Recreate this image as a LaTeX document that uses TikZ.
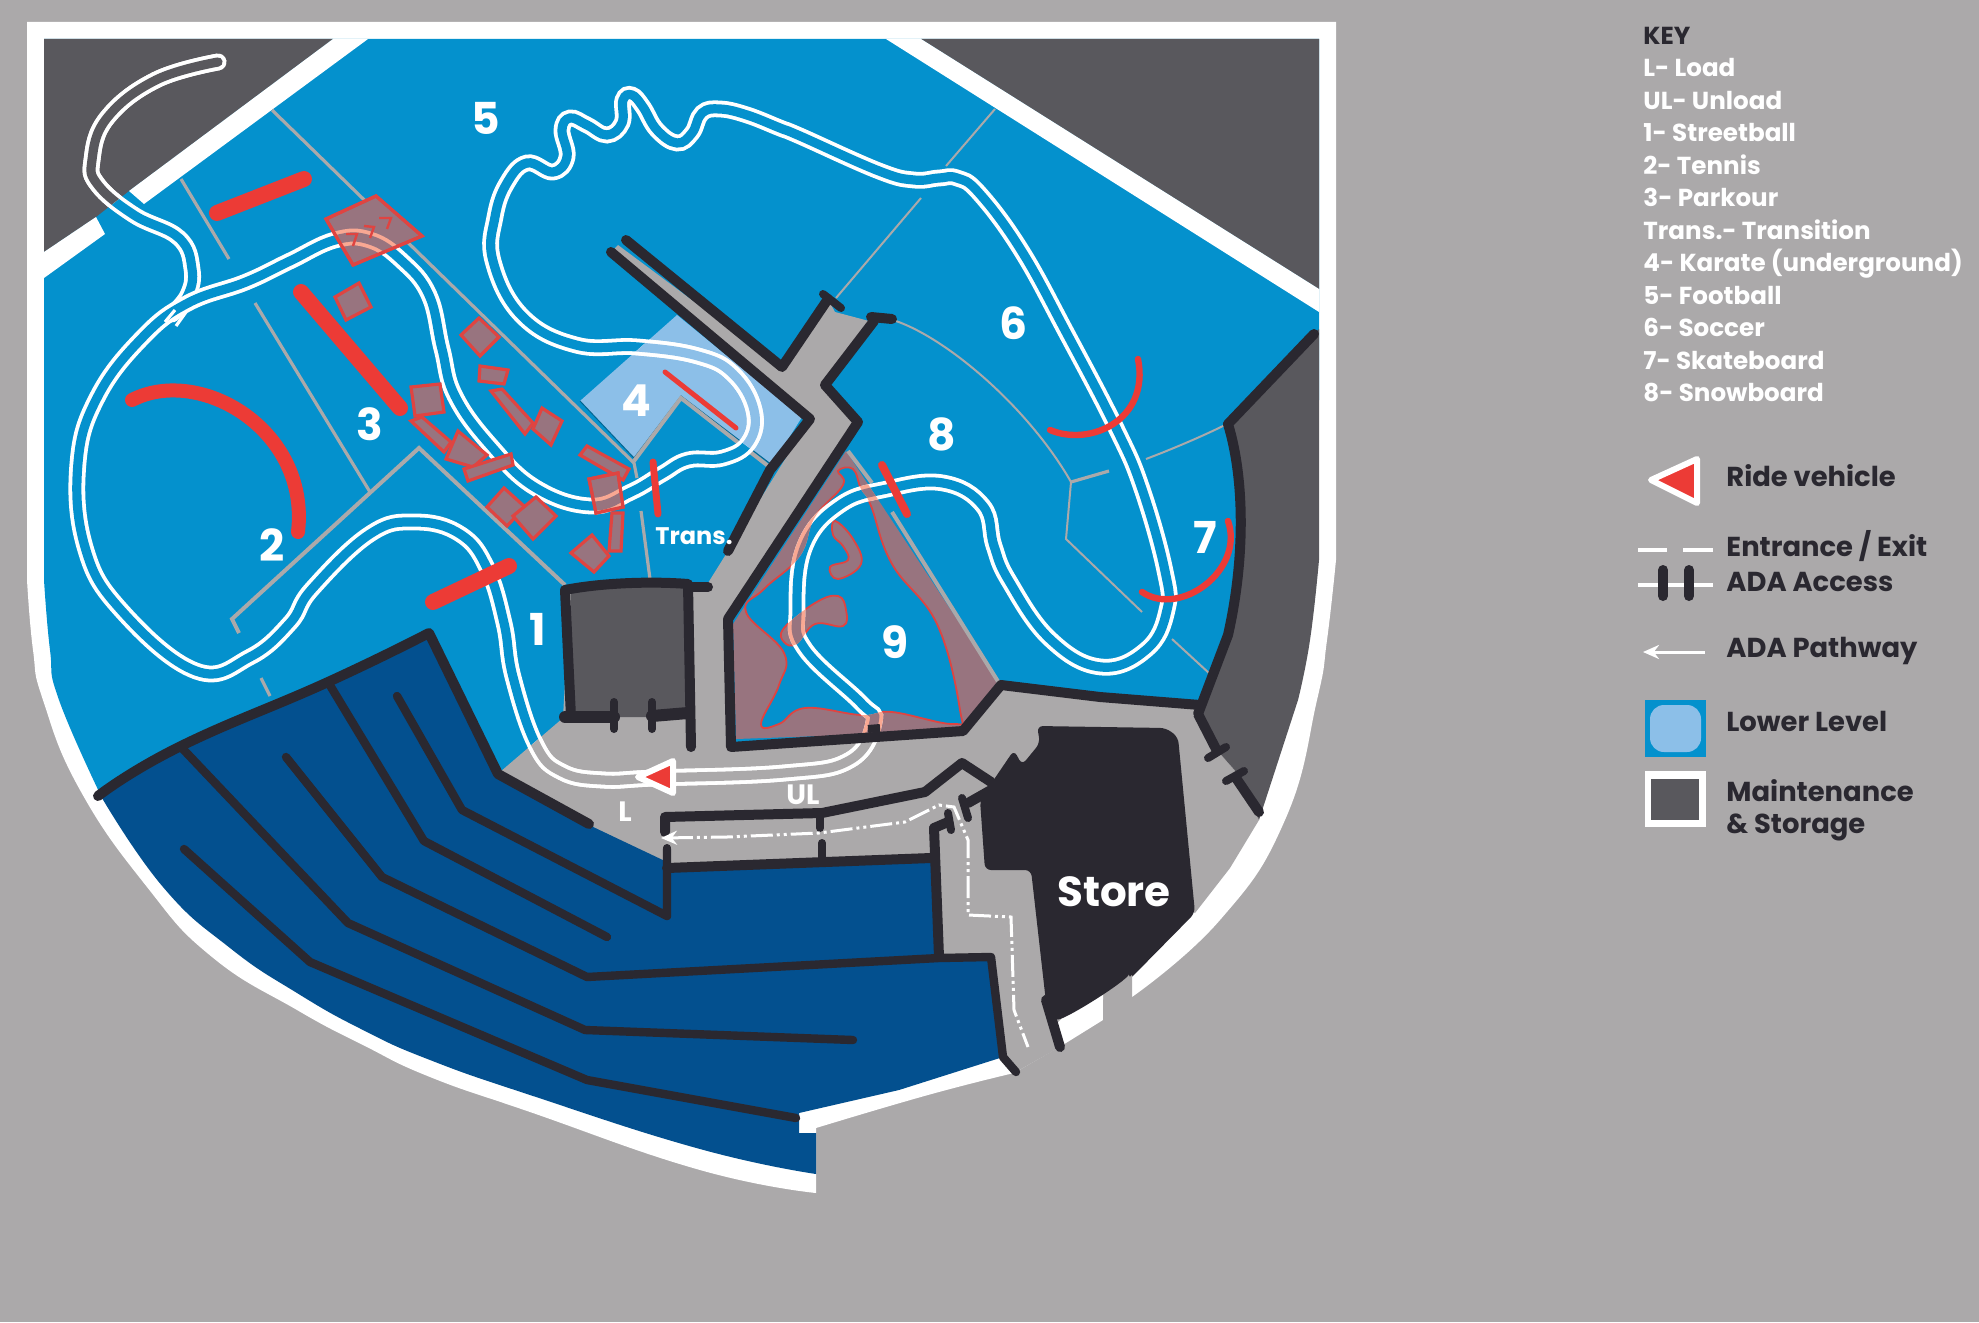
\documentclass[tikz,border=0pt]{standalone}
\usepackage{fontspec}
\setmainfont{Poppins}
\usetikzlibrary{matrix,arrows.meta}
\definecolor{backgray}{HTML}{ABA9AA}
\definecolor{parkblue}{HTML}{0491CD}
\definecolor{seatblue}{HTML}{03508F}
\definecolor{lowerblue}{HTML}{8CBFE8}
\definecolor{storegray}{HTML}{59585D}
\definecolor{walldark}{HTML}{2A2830}
\definecolor{ridered}{HTML}{EC3B36}
\definecolor{mauve}{HTML}{98747F}
\definecolor{salmon}{HTML}{F9A893}
\tikzset{
  wall/.style={draw=walldark,line width=5pt,line cap=round,line join=round},
  thinwall/.style={wall,line width=4.2pt},
  adapill/.style={wall,line width=4pt},
  fence/.style={draw=backgray,line width=1.6pt},
  redbar/.style={draw=ridered,line width=#1,line cap=round},
  redbar/.default=8pt,
  rails/.style 2 args={draw=#1,double=#2,double distance=4.6pt,line width=1.9pt,line cap=round},
  stunt/.style={fill=mauve,draw=ridered!85!mauve,line width=1.6pt,line join=miter},
  vehicle/.style={fill=ridered,draw=white,line width=3pt,line join=round},
  bignum/.style={text=white,font=\bfseries\fontsize{22}{22}\selectfont,inner sep=0pt},
  smalllabel/.style={text=white,font=\bfseries\fontsize{14}{14}\selectfont,inner sep=0pt},
  keylabel/.style={text=walldark,font=\bfseries\fontsize{13.7}{13.7}\selectfont,anchor=west,inner sep=0pt},
  adapath/.style={draw=white,line width=1.5pt,dash pattern=on 11pt off 2pt on 1.5pt off 2pt on 1.5pt off 2pt},
  adatip/.style={{Stealth[length=8pt,width=7pt]}-},
}
\newcommand{\trackloop}{plot[smooth cycle,tension=.7] coordinates {(655,778)(784,773)(850,760)(874,722)(861,703)(805,649)(797,610)(805,546)(840,505)(887,489)(943,483)(983,506)(994,546)(1009,581)(1050,639)(1101,667)(1147,649)(1167,610)(1165,571)(1142,489)(1116,428)(1066,332)(1021,250)(979,193)(957,178)(939,178)(914,180)(879,171)(800,136)(780,128)(747,115)(720,109)(702,113)(692,133)(677,143)(657,130)(643,107)(632,95)(623,100)(622,123)(607,135)(587,125)(570,118)(562,130)(567,157)(553,172)(527,163)(507,183)(495,217)(493,261)(522,316)(576,345)(638,347)(698,356)(733,374)(754,410)(749,442)(723,458)(688,460)(662,474)(631,492)(591,506)(536,488)(491,446)(455,396)(442,349)(429,295)(402,261)(370,240)(335,240)(290,261)(246,282)(188,303)(143,337)(98,396)(78,463)(85,547)(121,610)(196,671)(250,657)(290,623)(312,589)(370,534)(415,522)(460,534)(487,568)(504,623)(513,677)(536,745)(562,772)(603,780)}}
\newcommand{\trackspur}{plot[smooth,tension=.7] coordinates {(172,314)(188,295)(192,269)(179,238)(134,215)(98,185)(92,160)(107,118)(156,80)(218,62)}}
\newcommand{\cornerpath}{(44,39) -- (333,39) -- (129,191) -- (96,217) -- (44,252) -- cycle}
\newcommand{\lowerpath}{(580,401) -- (634,458) -- (681,396) -- (772,465) -- (802,417) -- (677,315) -- cycle}
\newcommand{\plazapath}{(618,245) -- (782,367) -- (828,299) -- (835,312) -- (869,321) -- (825,385) -- (858,422) -- (728,619) -- (731,747) -- (963,731) -- (1001,685) -- (1200,705) -- (1193,715) -- (1216,749) -- (1238,774) -- (1259,820) -- (1230,868) -- (1195,913) -- (1170,900) -- (1080,1000) -- (1050,1030) -- (1060,1047) -- (1014,1073) -- (1003,1057) -- (800,1000) -- (665,862) -- (591,826) -- (500,772) -- (563,718) -- (570,585) -- (708,583) -- (728,551) -- (810,419) -- (611,252) -- cycle}
\newcommand{\pinkholes}{plot[smooth cycle,tension=.7] coordinates {(838,471)(843,485)(815,517)(800,556)(764,589)(746,612)(784,653)(779,685)(761,724)(779,724)(805,708)(861,715)(892,712)(953,724)(960,710)(937,624)(892,564)(871,506)(861,489)(853,469)} plot[smooth cycle,tension=.7] coordinates {(835,521)(853,539)(861,564)(838,579)(830,567)(848,560)(843,546)(833,535)} plot[smooth cycle,tension=.7] coordinates {(784,628)(815,603)(838,596)(846,610)(843,626)(815,624)(797,644)(784,642)}}
\newcommand{\pinkpath}{(733,624) -- (846,451) -- (999,683) -- (960,731) -- (736,739) -- cycle \pinkholes}
\newcommand{\bigstunt}{(326,219) -- (376,196) -- (422,236) -- (353,265) -- cycle}
\newcommand{\lumpstunt}{(458,431) -- (487,455) -- (473,467) -- (446,459) -- cycle}
\newcommand{\transstunt}{(589,479) -- (618,473) -- (623,507) -- (596,513) -- cycle}
\newcommand{\seatrim}{(816,1174)(700,1149)(530,1095)(430,1060)(363,1030)(297,993)(230,948)(163,887)(102,798)}
\begin{document}
\begin{tikzpicture}[x=.5pt,y=-.5pt]
  \useasboundingbox (0,0) rectangle (1979,1322);
  \fill[backgray] (0,0) rectangle (1979,1322);
  \fill[white] (27,22) -- (1336,22) -- plot[smooth,tension=.8] coordinates {(1336,560)(1327,640)(1317,700)(1285,820)(1220,920)(1132,997)} -- (1132,970) -- (1103,990) -- (1103,1020) -- (1066,1043) -- plot[smooth,tension=.8] coordinates {(1014,1073)(928,1095)(816,1128)} -- plot[smooth,tension=.8] coordinates {(816,1193)(700,1170)(530,1112)(430,1077)(363,1045)(297,1010)(212,957)(147,887)(80,790)(43,700)(33,650)(27,580)} -- cycle;
  \fill[parkblue] (44,39) -- (1319,39) -- (1319,400) -- (1250,600) -- (1150,800) -- (800,1000) -- (300,800) -- plot[smooth,tension=.8] coordinates {(102,798)(59,700)(50,650)(44,580)} -- cycle;
  \fill[storegray] \cornerpath;
  \fill[storegray] (921,39) -- (1319,39) -- (1319,289) -- cycle;
  \fill[white] (333,39) -- (368,39) -- (144,204) -- (129,191) -- cycle;
  \fill[white] (96,217) -- (105,234) -- (44,278) -- (44,252) -- cycle;
  \fill[white] (886,39) -- (921,39) -- (1319,289) -- (1319,312) -- cycle;
  \fill[lowerblue] \lowerpath;
  \draw[parkblue!70!black,line width=.5pt] (580,401) -- (634,458) -- (681,396) -- (772,465);
  \fill[backgray] \plazapath;
  \fill[storegray] (1319,329) -- (1228,424) -- plot[smooth,tension=.8] coordinates {(1241,535)(1228,635)(1198,714)} -- (1216,749) -- (1238,774) -- (1259,820) -- plot[smooth,tension=.8] coordinates {(1298,700)(1310,640)(1319,560)} -- cycle;
  \fill[seatblue] plot[smooth,tension=.8] coordinates {(98,796)(179,747)(328,682)(429,633)} -- (498,774) -- (591,826) -- (667,862) -- (667,868) -- (931,860) -- (939,957) -- (991,957) -- (1003,1057) -- plot[smooth,tension=.8] coordinates {(899,1090)(799,1113)} -- (799,1133) -- (816,1133) -- plot[smooth,tension=.8] coordinates {\seatrim} -- cycle;
  \fill[mauve,even odd rule] \pinkpath;
  \draw[ridered!85!mauve,line width=.9pt] \pinkholes;
  \draw[fence] (272,110) -- (634,463) -- (637,478);
  \draw[fence,line width=2pt,line join=miter] (772,469) -- (681,398) -- (634,461);
  \draw[fence] (641,511) -- (650,579);
  \draw[fence] (181,179) -- (229,259);
  \draw[fence] (255,303) -- (370,492);
  \draw[fence,line width=2pt] (565,585) -- (419,448) -- (232,619) -- (239,633);
  \draw[fence] (261,678) -- (270,696);
  \draw[fence,line width=1pt] (995,109) -- (946,166);
  \draw[fence,line width=1pt] (921,198) -- (836,298);
  \draw[fence,line width=1pt] (896,321) .. controls (950,340) and (1030,410) .. (1071,482) -- (1066,539) -- (1142,612);
  \draw[fence] (1071,482) -- (1109,471);
  \draw[fence,line width=1pt] (1146,459) .. controls (1175,448) and (1205,435) .. (1225,425);
  \draw[fence,line width=1pt] (1172,639) -- (1210,674);
  \draw[fence,line width=2pt] (848,451) -- (872,483);
  \draw[fence,line width=2pt] (892,512) -- (999,683);
  \draw[rails={white}{parkblue}] \trackspur;
  \draw[rails={white}{parkblue}] \trackloop;
  \begin{scope}
    \clip \cornerpath;
    \draw[rails={white}{storegray}] \trackspur;
  \end{scope}
  \begin{scope}
    \clip \lowerpath;
    \draw[rails={white}{lowerblue}] \trackloop;
  \end{scope}
  \begin{scope}
    \clip \plazapath;
    \draw[rails={white}{backgray}] \trackloop;
  \end{scope}
  \begin{scope}[even odd rule]
    \clip \pinkpath;
    \draw[rails={salmon}{mauve}] \trackloop;
  \end{scope}
  \draw[white,line width=1.6pt] (165,322) -- (175,310);
  \draw[white,line width=1.6pt] (176,326) -- (186,312);
  \fill[storegray] (571,590) -- (690,585) -- (690,717) -- (571,717) -- cycle;
  \draw[wall] (565,590) .. controls (600,583) and (650,581) .. (688,584) -- (691,747);
  \draw[wall] (688,587) -- (708,587);
  \draw[wall] (565,590) -- (571,717);
  \draw[wall,line width=6pt] (565,717) -- (614,717);
  \draw[wall,line width=6pt] (652,716) -- (688,713);
  \draw[adapill] (614,702) -- (614,729);
  \draw[adapill] (652,702) -- (652,729);
  \draw[wall] plot[smooth,tension=.8] coordinates {(98,796)(179,747)(328,682)(429,633)} -- (498,774) -- (589,824);
  \draw[thinwall] (397,696) -- (462,810) -- (667,916) -- (667,849);
  \draw[thinwall] (328,682) -- (424,841) -- (607,937);
  \draw[thinwall] (286,757) -- (382,877) -- (587,977) -- (939,958) -- (991,957) -- (1003,1057) -- (1016,1072);
  \draw[thinwall] (181,747) -- (348,923) -- (585,1030) -- (853,1040);
  \draw[thinwall] (184,849) -- (310,962) -- (587,1080) -- (796,1118);
  \draw[wall] (667,868) -- (931,858);
  \draw[wall] (934,828) -- (939,957);
  \draw[wall] (934,828) -- (948,822);
  \draw[wall] (665,832) -- (665,817) -- (822,813) -- (925,792) -- (962,763) -- (991,782);
  \draw[adapill] (820,813) -- (820,828);
  \draw[adapill] (822,843) -- (822,862);
  \draw[adapill] (667,848) -- (667,870);
  \draw[adapill] (948,813) -- (951,830);
  \draw[adapill] (962,798) -- (968,818);
  \draw[wall] (968,803) -- (991,790);
  \fill[walldark,rounded corners=3pt] (1037,726) -- (1166,728) -- (1178,737) -- (1195,913) -- plot[smooth,tension=.8] coordinates {(1129,980)(1057,1025)} -- (1048,1020) -- (1031,870) -- (985,870) -- (980,800) -- (1014,750) -- (1022,765) -- (1040,743) -- cycle;
  \draw[wall] (1046,1000) -- (1060,1047);
  \draw[wall] (626,240) -- (782,367) -- (828,299);
  \draw[adapill] (823,294) -- (841,308);
  \draw[wall] (611,252) -- (810,419) -- (770,470) -- (728,551);
  \draw[wall] (871,317) -- (892,319);
  \draw[wall] (874,321) -- (825,385) -- (858,422) -- (728,619) -- (731,747) -- (963,731) -- (1001,685) -- (1100,697) -- (1200,705);
  \draw[wall] (1314,334) -- (1228,424) .. controls (1245,480) and (1245,560) .. (1228,635) -- (1198,714) -- (1216,749);
  \draw[adapill] (1208,758) -- (1226,747);
  \draw[adapill] (1226,781) -- (1244,771);
  \draw[wall] (1236,778) -- (1259,812);
  \draw[walldark,line width=4pt] (868,729) -- (880,728);
  \fill[backgray] (1103,1022) -- (1132,1000) -- (1132,975) -- (1103,1000) -- cycle;
  \draw[adapath,adatip] (661,838) -- (727,837) -- (819,833) -- (905,822) -- (939,805) -- (954,807) -- (968,840) -- (968,915) -- (1011,917) -- (1014,1010) -- (1028,1047);
  \draw[redbar] (217,213) -- (304,179);
  \draw[redbar] (301,292) -- (400,408);
  \draw[redbar=7pt] (132,400) .. controls (200,365) and (310,430) .. (298,532);
  \draw[redbar] (433,602) -- (509,566);
  \draw[redbar=3.5pt] (653,462) -- (658,514);
  \draw[redbar=2.5pt] (665,372) -- (736,428);
  \draw[redbar=4pt] (882,465) -- (907,514);
  \draw[redbar=3.2pt] (1050,430) .. controls (1090,447) and (1150,420) .. (1138,359);
  \draw[redbar=3.2pt] (1142,592) .. controls (1180,618) and (1245,570) .. (1228,521);
  \draw[stunt] \bigstunt;
  \draw[stunt] (335,297) -- (359,283) -- (371,307) -- (346,320) -- cycle;
  \draw[stunt] (461,335) -- (479,318) -- (499,337) -- (480,356) -- cycle;
  \draw[stunt] (480,366) -- (508,370) -- (504,384) -- (479,381) -- cycle;
  \draw[stunt] (491,391) -- (502,389) -- (533,423) -- (525,434) -- cycle;
  \draw[stunt] (533,429) -- (542,408) -- (562,421) -- (551,445) -- cycle;
  \draw[stunt] (411,387) -- (440,384) -- (444,412) -- (415,416) -- cycle;
  \draw[stunt] (411,421) -- (422,417) -- (451,442) -- (444,452) -- cycle;
  \draw[stunt] \lumpstunt;
  \draw[stunt] (464,469) -- (511,454) -- (513,465) -- (468,481) -- cycle;
  \draw[stunt] (487,507) -- (504,488) -- (525,507) -- (507,526) -- cycle;
  \draw[stunt] (513,516) -- (536,497) -- (556,516) -- (533,539) -- cycle;
  \draw[stunt] (580,455) -- (587,446) -- (629,469) -- (623,480) -- cycle;
  \draw[stunt] \transstunt;
  \draw[stunt] (612,513) -- (623,513) -- (621,551) -- (609,551) -- cycle;
  \draw[stunt] (571,553) -- (592,535) -- (609,556) -- (594,572) -- cycle;
  \begin{scope}
    \clip \bigstunt;
    \draw[rails={salmon}{mauve}] \trackloop;
  \end{scope}
  \begin{scope}
    \clip \lumpstunt;
    \draw[rails={salmon}{mauve}] \trackloop;
  \end{scope}
  \begin{scope}
    \clip \transstunt;
    \draw[rails={salmon}{mauve}] \trackloop;
  \end{scope}
  \draw[stunt,fill=none] \bigstunt;
  \draw[stunt,fill=none] \transstunt;
  \draw[ridered!85!mauve,line width=1.2pt] (346,234) -- (357,234) -- (353,246);
  \draw[ridered!85!mauve,line width=1.2pt] (364,226) -- (374,227) -- (370,238);
  \draw[ridered!85!mauve,line width=1.2pt] (379,218) -- (391,218) -- (387,229);
  \draw[vehicle] (638,777) -- (673,761) -- (673,793) -- cycle;
  \node[bignum] (one) at (538,629) {1};
  \node[bignum] (two) at (272,545) {2};
  \node[bignum] (three) at (370,424) {3};
  \node[bignum] (four) at (636,401) {4};
  \node[bignum] (five) at (486,118) {5};
  \node[bignum] (six) at (1013,323) {6};
  \node[bignum] (seven) at (1205,537) {7};
  \node[bignum] (eight) at (942,434) {8};
  \node[bignum] (nine) at (895,642) {9};
  \node[text=white,font=\bfseries\fontsize{12}{12}\selectfont,inner sep=0pt] (trans) at (694,536) {Trans.};
  \node[smalllabel] (load) at (625,812) {L};
  \node[smalllabel] (unload) at (803,795) {UL};
  \node[text=white,font=\bfseries\fontsize{21}{21}\selectfont,inner sep=0pt] (store) at (1114,892) {Store};
  \matrix (key) [matrix of nodes,anchor=north west,row sep=0pt,inner sep=0pt,
    nodes={anchor=base west,inner sep=0pt,text=white,text height=11pt,text depth=5.25pt,font=\bfseries\fontsize{12.3}{12.3}\selectfont},
    row 1/.style={nodes={text=walldark}}] at (1643,22) {
    KEY\\
    L- Load\\
    UL- Unload\\
    1- Streetball\\
    2- Tennis\\
    3- Parkour\\
    Trans.- Transition\\
    4- Karate (underground)\\
    5- Football\\
    6- Soccer\\
    7- Skateboard\\
    8- Snowboard\\
  };
  \draw[vehicle] (1651,480) -- (1697,459) -- (1697,503) -- cycle;
  \node[keylabel] (ridekey) at (1726,476) {Ride vehicle};
  \draw[white,line width=2pt] (1638,550) -- (1667,550);
  \draw[white,line width=2pt] (1683,550) -- (1713,550);
  \node[keylabel] (entrancekey) at (1726,546) {Entrance / Exit};
  \draw[white,line width=2pt] (1638,585) -- (1713,585);
  \draw[walldark,line width=5pt,line cap=round] (1663,570) -- (1663,596);
  \draw[walldark,line width=5pt,line cap=round] (1689,570) -- (1689,596);
  \node[keylabel] (adakey) at (1726,582) {ADA Access};
  \draw[white,line width=1.5pt,dash pattern=on 28pt off 3pt on 2pt off 3pt,adatip] (1643,652) -- (1705,652);
  \node[keylabel] (pathkey) at (1726,651) {ADA Pathway};
  \fill[parkblue] (1645,700) rectangle (1706,757);
  \fill[lowerblue,rounded corners=7pt] (1650,705) rectangle (1701,752);
  \node[keylabel] (lowerkey) at (1726,721) {Lower Level};
  \fill[white] (1645,771) rectangle (1706,827);
  \fill[storegray] (1651,779) rectangle (1699,820);
  \node[keylabel] (maintkey) at (1726,791) {Maintenance};
  \node[keylabel] (storagekey) at (1726,827) {\& Storage};
\end{tikzpicture}
\end{document}
